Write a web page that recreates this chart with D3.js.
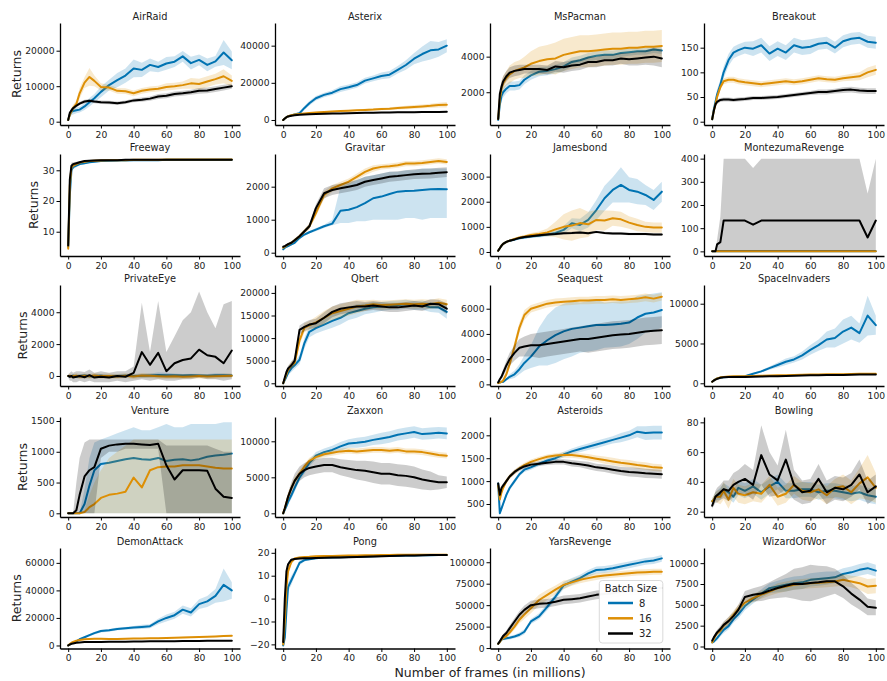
<!DOCTYPE html>
<html><head><meta charset="utf-8">
<script src="https://cdn.jsdelivr.net/npm/d3@7"></script>
<style>
body{margin:0;background:#fff}
svg{font-family:"DejaVu Sans",sans-serif}
</style>
</head><body>
<svg id="chart" width="887" height="681"></svg>
<script>
// ---------------- DATA ----------------
const frames = [0,1,2,3,5,7,10,13,16,20,25,30,35,40,45,50,55,60,65,70,75,80,85,90,95,100];
const batchSizes = [8, 16, 32];
const games = ["AirRaid","Asterix","MsPacman","Breakout","Freeway","Gravitar","Jamesbond","MontezumaRevenge",
  "PrivateEye","Qbert","Seaquest","SpaceInvaders","Venture","Zaxxon","Asteroids","Bowling",
  "DemonAttack","Pong","YarsRevenge","WizardOfWor"];
const xTickValues = [0,20,40,60,80,100];
const yTickValues = [
  [0,10000,20000],[0,20000,40000],[2000,4000],[0,50,100,150],
  [10,20,30],[0,1000,2000],[0,1000,2000,3000],[0,100,200,300,400],
  [0,2000,4000],[0,5000,10000,15000,20000],[0,2000,4000,6000],[0,5000,10000],
  [0,500,1000,1500],[0,5000,10000],[500,1000,1500,2000],[20,40,60,80],
  [0,20000,40000,60000],[-20,-10,0,10,20],[0,25000,50000,75000,100000],[0,2500,5000,7500,10000]];
const yDomains = [
  [-930,27800],[-2700,52200],[160,5890],[-6.7,200],
  [2.1,35.3],[-100,2990],[-160,3900],[-20,420],
  [-630,5710],[-600,21750],[-130,7880],[-340,12350],
  [-60,1565],[-510,13375],[216,2400],[16.4,83.6],
  [-2200,70800],[-21.8,22.1],[-500,116600],[-240,11820]];

// mean returns, one row per batch size (8, 16, 32)
const AirRaid_mean = [
 [500,2000,2800,3000,3200,3400,4300,5500,6600,8400,10300,11700,13000,15000,14600,16000,15400,16400,16900,18400,16500,17400,16000,17000,19500,17300],
 [500,2000,3000,3800,5000,8000,11000,12600,11500,9800,9600,8700,8600,8000,8700,9100,9300,9800,10000,10300,10800,10600,11300,12000,12800,11500],
 [500,2500,3200,3800,4500,5100,5700,5900,5700,5500,5400,5200,5500,6000,6200,6500,7100,7300,7800,8000,8300,8700,8800,9200,9600,10000]];
const AirRaid_sd = [
 [300,800,1000,1000,800,800,1000,1200,1200,1500,1500,2000,2000,2500,2000,1800,1500,1800,1500,1500,1800,1500,1800,1500,3500,2500],
 [300,800,1000,1000,1000,1500,1500,2500,1500,1000,800,800,800,800,800,800,800,1000,1000,1000,1500,1500,1500,1500,2000,1500],
 [200,500,500,500,500,500,500,500,500,500,500,500,500,500,600,600,700,700,700,700,700,800,800,800,800,700]];

const Asterix_mean = [
 [0,800,1500,2000,2500,3000,3600,6500,9000,11700,13500,14700,16600,17600,18800,21200,22400,23700,24400,27000,29600,33000,35500,37500,38000,40000],
 [0,800,1500,2000,2600,2900,3200,3500,3700,4000,4300,4600,4800,5000,5200,5400,5600,5900,6100,6400,6700,7000,7300,7600,8000,8200],
 [0,800,1500,1900,2300,2600,2800,3000,3100,3200,3300,3450,3550,3650,3750,3850,3900,4000,4050,4100,4150,4200,4250,4300,4350,4400]];
const Asterix_sd = [
 [200,300,400,500,500,600,800,1000,1200,1200,1200,1300,1500,1500,1500,1500,1500,1800,2000,2000,2500,3000,4000,5000,4000,3500],
 [200,300,300,300,300,300,300,300,300,400,400,500,500,500,500,600,600,700,700,800,900,1000,1000,1200,1300,1500],
 [150,250,300,300,300,300,300,300,300,300,300,300,350,350,350,350,350,350,350,400,400,400,400,400,400,400]];

const MsPacman_mean = [
 [450,1300,1800,2000,2200,2350,2350,2400,2700,2950,3150,3200,3300,3450,3700,3800,3950,4050,4100,4100,4200,4250,4300,4300,4400,4350],
 [500,1600,2200,2500,2800,3000,3200,3300,3400,3600,3750,3850,3900,4100,4200,4300,4300,4350,4400,4450,4450,4500,4500,4550,4550,4600],
 [500,1900,2300,2600,2900,3100,3200,3250,3300,3300,3300,3250,3450,3400,3500,3550,3700,3700,3800,3800,3900,3850,3900,3950,4000,3900]];
const MsPacman_sd = [
 [100,300,300,300,250,250,250,250,250,250,250,250,250,250,250,250,250,250,250,250,200,200,200,200,200,200],
 [100,300,400,400,400,500,500,500,600,700,800,800,900,900,900,900,900,900,900,900,900,900,900,900,900,900],
 [100,300,300,300,300,300,300,300,250,250,250,250,300,300,300,300,300,300,300,300,300,350,400,400,500,500]];

const Breakout_mean = [
 [5,25,40,55,75,100,125,140,145,150,148,155,138,148,140,155,150,152,158,160,150,163,168,170,162,160],
 [5,22,35,50,70,82,85,85,82,80,78,76,78,80,82,80,82,85,88,86,85,88,90,92,100,105],
 [5,22,35,40,44,45,45,44,45,46,48,48,49,50,52,54,56,58,60,60,62,64,65,63,62,62]];
const Breakout_sd = [
 [2,5,8,10,10,12,12,12,12,12,15,15,15,15,15,15,15,15,12,12,12,12,12,12,12,12],
 [2,5,6,6,6,6,6,6,6,6,6,6,6,6,6,6,6,6,6,6,6,6,7,8,10,10],
 [2,4,4,4,4,4,4,4,4,4,4,4,4,4,4,4,4,4,5,5,5,6,6,6,6,6]];

const Freeway_mean = [
 [5,22,30,31,31.5,32,32.3,32.6,32.8,33,33.1,33.2,33.2,33.3,33.3,33.3,33.3,33.4,33.4,33.4,33.4,33.4,33.4,33.4,33.4,33.4],
 [4.5,25,31,31.5,32,32.5,32.8,33,33.1,33.2,33.3,33.3,33.3,33.4,33.4,33.4,33.4,33.5,33.5,33.5,33.5,33.5,33.5,33.5,33.5,33.5],
 [5.5,27,31.5,32,32.3,32.6,33,33.1,33.2,33.3,33.3,33.3,33.4,33.4,33.4,33.4,33.4,33.4,33.4,33.4,33.4,33.4,33.4,33.4,33.4,33.4]];
const Freeway_sd = [
 [0.5,2,1,0.6,0.5,0.4,0.3,0.3,0.3,0.3,0.2,0.2,0.2,0.2,0.2,0.2,0.2,0.2,0.2,0.2,0.2,0.2,0.2,0.2,0.2,0.2],
 [0.5,2,1,0.6,0.5,0.4,0.3,0.3,0.3,0.3,0.2,0.2,0.2,0.2,0.2,0.2,0.2,0.2,0.2,0.2,0.2,0.2,0.2,0.2,0.2,0.2],
 [0.5,2,1,0.6,0.5,0.4,0.3,0.3,0.3,0.3,0.2,0.2,0.2,0.2,0.2,0.2,0.2,0.2,0.2,0.2,0.2,0.2,0.2,0.2,0.2,0.2]];

const Gravitar_mean = [
 [100,150,180,200,250,300,450,550,620,700,800,880,1270,1300,1380,1500,1650,1700,1780,1850,1870,1880,1900,1920,1930,1920],
 [150,180,220,250,300,380,500,650,800,1200,1750,1950,2050,2150,2300,2450,2550,2600,2620,2650,2700,2700,2720,2750,2780,2750],
 [180,200,230,260,300,380,500,650,800,1350,1800,1900,1950,2000,2050,2150,2200,2250,2300,2320,2350,2380,2390,2400,2420,2440]];
const Gravitar_sd = [
 [20,20,20,20,30,30,40,40,40,50,50,60,500,600,600,600,600,600,600,600,600,600,600,600,600,600],
 [30,30,30,40,40,50,50,60,80,100,120,100,100,100,100,100,100,80,80,80,80,80,80,80,80,80],
 [30,30,30,40,40,50,50,60,80,120,150,150,150,150,150,150,150,150,150,150,150,150,150,150,150,150]];
const Gravitar_lo8 = [80,130,160,180,220,270,410,510,580,650,750,830,900,900,950,950,1000,1000,1000,1000,1050,1050,1000,1050,1050,1050];
const Gravitar_hi8 = [120,170,200,220,280,330,490,590,660,750,850,1000,2000,2100,2200,2300,2350,2400,2450,2450,2500,2500,2550,2550,2550,2550];

const Jamesbond_mean = [
 [50,150,250,320,400,450,500,550,580,620,650,700,760,880,1140,1075,1275,1670,2140,2470,2670,2470,2400,2270,2070,2400],
 [50,150,250,320,400,450,520,580,620,680,720,780,900,1000,1050,1150,1100,1275,1250,1340,1300,1170,1075,1000,970,970],
 [50,150,250,320,400,450,500,560,600,630,670,700,720,750,760,780,750,800,760,740,740,720,720,720,700,700]];
const Jamesbond_sd = [
 [20,30,40,40,50,50,50,50,60,60,70,80,100,150,200,250,300,400,500,500,700,500,500,400,400,400],
 [20,30,40,40,50,50,50,60,60,80,100,150,300,500,600,600,500,400,400,300,300,250,250,200,200,200],
 [20,30,30,30,40,40,40,40,40,40,40,50,50,50,50,50,50,50,50,50,50,50,50,50,50,50]];

const MontezumaRevenge_mean = [
 [0,0,0,0,0,0,0,0,0,0,0,0,0,0,0,0,0,0,0,0,0,0,0,0,0,0],
 [0,0,0,0,0,0,0,0,0,0,0,0,0,0,0,0,0,0,0,0,0,0,0,0,0,0],
 [0,0,0,30,40,133,133,133,133,133,115,133,133,133,133,133,133,133,133,133,133,133,133,133,60,133]];
const MontezumaRevenge_sd = [
 [0,0,0,0,0,0,0,0,0,0,0,0,0,0,0,0,0,0,0,0,0,0,0,0,0,0],
 [0,0,0,0,0,0,0,0,0,0,0,0,0,0,0,0,0,0,0,0,0,0,0,0,0,0],
 [0,0,0,0,0,0,0,0,0,0,0,0,0,0,0,0,0,0,0,0,0,0,0,0,0,0]];
const MontezumaRevenge_lo32 = [0,0,0,0,0,0,0,0,0,0,0,0,0,0,0,0,0,0,0,0,0,0,0,0,0,0];
const MontezumaRevenge_hi32 = [0,0,0,50,150,400,400,400,400,400,360,400,400,400,400,400,400,400,400,400,400,400,400,400,250,400];

const PrivateEye_mean = [
 [0,-20,0,20,-30,0,30,-20,0,20,-30,0,20,0,10,30,60,50,40,30,40,30,20,50,40,30],
 [0,20,-30,0,20,-40,10,-20,30,-10,0,-30,20,-40,30,10,-20,-40,-20,-50,-30,-10,-40,-20,0,10],
 [0,-50,0,-100,-50,0,-80,50,-100,-50,-100,0,-50,200,1500,700,1450,300,800,1000,1100,1650,1300,1200,800,1600]];
const PrivateEye_sd = [
 [50,80,80,80,100,100,100,100,100,100,100,100,100,100,120,120,150,150,120,100,100,100,100,120,120,100],
 [50,80,100,100,150,150,150,150,150,150,150,150,150,150,150,150,150,150,150,150,150,150,150,150,150,150],
 [100,200,300,300,300,300,300,300,300,300,300,300,300,400,1500,800,1500,800,1000,1200,1400,1800,1400,1000,1500,1500]];
const PrivateEye_lo32 = [-100,-300,-300,-400,-400,-300,-400,-300,-400,-400,-400,-300,-400,-300,-200,-300,-200,-300,-300,-200,-200,-100,-200,-200,-300,-200];
const PrivateEye_hi32 = [100,200,300,200,300,300,250,400,200,300,200,300,300,600,4600,1500,4700,1500,2500,3500,4000,5300,4000,3000,4500,4700];

const Qbert_mean = [
 [0,700,1500,2300,3300,4000,5200,8900,11400,12200,13000,13800,14500,15500,16000,16500,16800,17000,17200,17300,17500,17200,17300,16800,16800,15800],
 [0,1000,2000,3000,4000,4500,9500,12300,12800,13500,14500,15500,16000,16500,17000,17200,17500,17300,17400,17500,17600,17500,17600,17500,17800,17500],
 [0,1300,2500,3300,4000,5000,11800,12500,13000,13300,14500,15800,16500,16800,17000,17000,17200,17000,16800,16800,17000,17200,17000,17600,17500,16500]];
const Qbert_sd = [
 [100,300,500,600,800,800,1000,1200,1200,1200,1300,1500,1500,1500,1500,1200,1200,1000,1000,1000,1000,1000,1000,1000,1200,1500],
 [100,300,500,600,800,800,1000,1000,1000,1200,1500,1500,1500,1500,1500,1200,1000,1000,1000,1000,1000,1000,1000,1000,1000,1000],
 [100,300,500,600,800,800,1000,1000,1000,1000,1200,1200,1200,1200,1200,1000,1000,1000,1000,1000,1000,1000,1000,1000,1000,1200]];

const Seaquest_mean = [
 [150,150,180,200,400,600,800,1200,1700,2200,3000,3500,3900,4200,4400,4500,4600,4700,4700,4750,4800,4900,5300,5600,5700,5900],
 [100,150,200,300,800,1600,3000,4500,5500,6000,6200,6400,6500,6550,6600,6650,6650,6700,6700,6750,6700,6750,6800,6900,6800,6950],
 [150,400,600,900,1500,2000,2500,2900,3000,3100,3100,3200,3300,3400,3500,3600,3600,3700,3800,3900,3950,4000,4100,4200,4250,4300]];
const Seaquest_sd = [
 [50,50,50,100,100,200,300,400,600,900,1500,2000,2200,2200,2200,2000,2000,2000,1800,1800,1800,1700,1700,1500,1500,1400],
 [50,50,100,100,200,300,400,400,400,300,300,300,300,300,300,300,300,300,300,300,300,300,300,300,300,300],
 [50,100,200,300,400,500,600,700,800,900,1000,1000,1000,1000,1000,1000,1100,1100,1100,1100,1100,1100,1100,1100,1100,1100]];

const SpaceInvaders_mean = [
 [200,350,500,600,700,750,800,820,850,900,1200,1500,1900,2300,2700,3000,3500,4200,4800,5500,5700,6500,7000,6300,8500,7300],
 [200,350,500,600,750,800,850,870,880,900,920,950,980,1000,1020,1050,1070,1100,1120,1150,1150,1150,1180,1200,1200,1200],
 [200,350,450,550,700,750,800,800,800,800,820,850,870,900,920,950,970,1000,1020,1050,1050,1050,1080,1100,1100,1100]];
const SpaceInvaders_sd = [
 [50,50,50,50,50,50,50,50,50,80,100,150,200,300,400,400,500,600,700,1000,1200,1500,1500,1200,2500,1200],
 [50,50,50,50,50,50,50,50,50,50,50,50,50,50,50,60,60,60,60,60,70,70,70,70,70,70],
 [50,50,50,50,50,50,50,50,50,50,50,50,50,50,50,60,60,60,60,60,60,60,60,60,60,60]];

const Venture_mean = [
 [0,0,0,0,0,0,150,450,700,800,820,850,880,900,880,870,900,850,870,880,860,880,920,940,950,970],
 [0,0,0,0,0,0,20,100,150,250,300,320,350,580,420,700,750,760,760,780,780,780,760,740,730,730],
 [0,0,0,0,50,300,600,700,750,1050,1100,1120,1130,1130,1120,1110,1130,780,550,700,700,700,690,400,270,250]];
const Venture_sd = null;
const Venture_lo8 = [0,0,0,0,0,0,0,0,0,0,0,0,0,0,0,0,0,0,0,0,0,0,0,0,0,0];
const Venture_hi8 = [0,0,0,0,0,0,400,900,1150,1200,1250,1300,1350,1400,1350,1350,1400,1450,1400,1400,1450,1450,1450,1450,1480,1480];
const Venture_lo16 = [0,0,0,0,0,0,0,0,0,0,0,0,0,0,0,0,0,0,0,0,0,0,0,0,0,0];
const Venture_hi16 = [0,0,0,0,0,0,50,300,500,700,900,1000,1100,1200,1200,1200,1200,1200,1200,1200,1200,1200,1200,1200,1200,1200];
const Venture_lo32 = [0,0,0,0,0,0,0,0,0,900,1000,1000,1050,1050,1050,1050,1050,0,0,0,0,0,0,0,0,0];
const Venture_hi32 = [0,0,0,0,500,900,1150,1200,1200,1200,1200,1200,1200,1200,1200,1200,1200,1100,1100,1100,1100,1100,1100,1050,1000,1000];

const Zaxxon_mean = [
 [0,500,1000,1600,2500,3500,5000,6000,7000,8000,8500,8800,9300,9700,9800,9950,10200,10400,10600,10900,11100,11300,11000,11100,11200,11100],
 [0,700,1500,2300,3500,4500,5500,6500,7300,7800,8200,8400,8600,8700,8600,8700,8800,8800,8700,8800,8600,8600,8500,8300,8100,8000],
 [0,700,1500,2300,3500,4500,5500,6000,6300,6500,6700,6700,6400,6200,6000,5900,5700,5500,5500,5300,5200,5000,4700,4500,4300,4300]];
const Zaxxon_sd = [
 [100,200,300,400,500,500,500,500,500,500,500,600,600,600,700,700,700,800,800,800,800,800,800,800,800,800],
 [100,200,400,500,500,500,500,400,400,400,400,400,400,400,400,400,400,400,400,400,400,400,400,400,400,400],
 [100,300,500,600,800,1000,1000,1000,1000,1000,1000,1000,1100,1200,1300,1400,1500,1500,1500,1500,1500,1500,1400,1300,1000,800]];

const Asteroids_mean = [
 [950,300,400,500,700,850,1000,1150,1250,1300,1380,1450,1500,1580,1650,1700,1750,1800,1850,1900,1950,2000,2080,2050,2060,2060],
 [900,600,750,850,1000,1100,1200,1280,1350,1420,1480,1530,1560,1570,1570,1550,1520,1490,1460,1430,1400,1380,1350,1330,1300,1290],
 [950,700,850,900,1000,1100,1200,1270,1320,1360,1380,1400,1420,1420,1390,1370,1340,1300,1280,1250,1220,1200,1190,1170,1160,1150]];
const Asteroids_sd = [
 [50,50,50,50,50,50,50,50,50,50,50,50,60,60,60,70,70,80,80,80,100,100,120,150,150,150],
 [50,50,50,50,50,50,50,50,50,50,50,50,50,60,60,60,70,70,80,80,80,80,80,80,80,80],
 [50,50,50,50,50,50,50,50,50,50,50,50,60,60,70,70,80,80,80,90,90,100,100,100,100,100]];

const Bowling_mean = [
 [27,28,30,31,32,35,33,30,36,34,37,33,37,40,34,34,35,35,33,34,34,33,32,33,31,30],
 [27,28,30,30,30,34,28,36,32,31,33,32,38,30,32,38,34,33,35,31,36,37,33,39,43,36],
 [24,27,30,31,33,35,34,38,40,42,38,58,45,41,55,38,33,34,42,33,36,35,38,45,33,37]];
const Bowling_sd = [
 [2,3,3,3,4,4,4,4,5,5,5,5,5,5,5,5,5,5,5,5,5,5,5,5,5,5],
 [2,3,3,4,5,6,6,6,6,6,6,6,6,6,6,6,6,6,6,6,6,8,8,10,15,10],
 [2,3,4,5,5,6,7,8,8,10,10,20,15,10,20,10,8,8,10,8,8,8,8,10,8,8]];

const DemonAttack_mean = [
 [0,800,1500,2000,3000,4500,6000,7500,9000,10500,11000,12000,12500,13000,13500,14000,17500,20000,22000,26000,24000,30000,32000,36000,44000,40000],
 [0,1000,2000,2500,3500,4000,4500,4700,4800,4800,4700,4700,4800,5000,5100,5200,5300,5500,5600,5800,6000,6200,6400,6600,6800,7000],
 [0,700,1200,1500,2000,2200,2500,2550,2600,2600,2650,2700,2750,2800,2900,3000,3050,3100,3150,3200,3250,3300,3350,3400,3450,3500]];
const DemonAttack_sd = [
 [200,300,400,500,600,700,800,900,1000,1000,1000,1000,1000,1200,1500,1500,2000,2500,2500,3000,3000,3500,4000,5000,12000,6000],
 [100,200,300,300,400,400,400,400,400,400,400,400,400,400,400,400,400,400,400,500,500,500,500,500,600,600],
 [100,200,200,200,200,200,200,200,200,200,200,200,200,200,250,250,250,250,250,250,300,300,300,300,300,300]];

const Pong_mean = [
 [-20.5,-17,-5,5,8,11,15.6,16.8,17.2,17.6,17.9,18,18.1,18.2,18.3,18.4,18.5,18.6,18.6,18.7,18.8,18.8,18.9,18.9,19,19],
 [-20,-10,5,12,16,17.5,18,18.2,18.3,18.5,18.6,18.6,18.7,18.8,18.8,18.9,18.9,19,19,19.1,19.1,19.2,19.2,19.2,19.2,19.2],
 [-19,0,12,15,17,17.3,17.5,17.6,17.6,17.7,17.8,17.9,18,18.1,18.2,18.3,18.4,18.5,18.6,18.7,18.8,18.8,18.9,19,19,19]];
const Pong_sd = [
 [0.3,2,3,2,2,1.5,1,0.6,0.5,0.4,0.4,0.4,0.4,0.4,0.4,0.4,0.4,0.4,0.4,0.4,0.4,0.4,0.4,0.4,0.4,0.4],
 [0.3,2,3,2,1,0.6,0.5,0.4,0.4,0.4,0.4,0.4,0.4,0.4,0.4,0.4,0.4,0.4,0.4,0.4,0.4,0.4,0.4,0.4,0.4,0.4],
 [0.3,3,2,1,0.5,0.4,0.4,0.4,0.4,0.4,0.4,0.4,0.4,0.4,0.4,0.4,0.4,0.4,0.4,0.4,0.4,0.4,0.4,0.4,0.4,0.4]];

const YarsRevenge_mean = [
 [5000,7000,10000,10500,11500,12000,13500,15500,19000,31000,37000,48000,60000,73000,77500,81500,87000,91000,91500,93000,95000,97000,99000,101000,102000,104500],
 [5000,7000,10000,11500,14000,18000,25000,33000,39000,46500,56000,62000,68000,73600,76500,79500,81500,83300,84500,85300,86300,87200,88000,88400,88800,89000],
 [5000,8000,11000,14000,17500,23000,31000,38800,44500,50000,51500,52300,54000,56200,57000,58000,60000,62000,63000,64000,65500,66500,67500,68500,69500,70000]];
const YarsRevenge_sd = [
 [500,1000,1500,1500,2000,2000,2000,2500,3000,3000,3500,4000,4000,4000,4000,4000,4000,4000,4000,4000,4000,4000,4000,4000,4000,4000],
 [500,1000,1500,2000,2500,3000,3500,4000,5000,6000,6000,6000,5000,5000,4000,4000,4000,4000,3500,3500,3500,3500,3500,3500,3500,3500],
 [500,1500,2000,2500,3000,3500,4000,4500,5000,5000,5000,5000,5000,5000,5000,5000,5000,5000,5000,5000,5000,5000,5000,5000,5000,5000]];

const WizardOfWor_mean = [
 [500,600,800,1000,1500,2000,2450,3250,3850,4850,5650,6350,7000,7200,7400,7600,7700,8000,8100,8200,8300,8700,8900,9200,9400,9100],
 [500,900,1300,1600,1900,2500,3050,3800,4500,5250,5800,6230,6600,7000,7200,7400,7500,7600,7650,7700,7800,8000,7800,7600,7200,7300],
 [700,1100,1400,1700,2100,2600,3050,3650,4400,5950,6200,6350,6700,7020,7300,7540,7500,7620,7700,7820,7820,7220,6350,5630,4760,4640]];
const WizardOfWor_sd = [
 [100,200,200,300,300,400,400,400,500,500,500,500,600,700,800,800,800,800,800,800,700,700,700,700,700,700],
 [100,200,300,300,400,400,500,500,500,500,500,500,500,600,600,600,600,600,600,600,600,700,700,800,900,900],
 [100,200,300,300,400,400,500,500,600,700,800,900,1000,1200,1400,1800,2000,2200,2000,1800,1500,1400,1300,1200,1000,900]];

// ---------------- assemble ----------------
const meanSets = {AirRaid:AirRaid_mean, Asterix:Asterix_mean, MsPacman:MsPacman_mean, Breakout:Breakout_mean,
  Freeway:Freeway_mean, Gravitar:Gravitar_mean, Jamesbond:Jamesbond_mean, MontezumaRevenge:MontezumaRevenge_mean,
  PrivateEye:PrivateEye_mean, Qbert:Qbert_mean, Seaquest:Seaquest_mean, SpaceInvaders:SpaceInvaders_mean,
  Venture:Venture_mean, Zaxxon:Zaxxon_mean, Asteroids:Asteroids_mean, Bowling:Bowling_mean,
  DemonAttack:DemonAttack_mean, Pong:Pong_mean, YarsRevenge:YarsRevenge_mean, WizardOfWor:WizardOfWor_mean};
const sdSets = {AirRaid:AirRaid_sd, Asterix:Asterix_sd, MsPacman:MsPacman_sd, Breakout:Breakout_sd,
  Freeway:Freeway_sd, Gravitar:Gravitar_sd, Jamesbond:Jamesbond_sd, MontezumaRevenge:MontezumaRevenge_sd,
  PrivateEye:PrivateEye_sd, Qbert:Qbert_sd, Seaquest:Seaquest_sd, SpaceInvaders:SpaceInvaders_sd,
  Venture:Venture_sd, Zaxxon:Zaxxon_sd, Asteroids:Asteroids_sd, Bowling:Bowling_sd,
  DemonAttack:DemonAttack_sd, Pong:Pong_sd, YarsRevenge:YarsRevenge_sd, WizardOfWor:WizardOfWor_sd};
const bandOverrides = {
  "Gravitar_8":[Gravitar_lo8, Gravitar_hi8],
  "MontezumaRevenge_32":[MontezumaRevenge_lo32, MontezumaRevenge_hi32],
  "PrivateEye_32":[PrivateEye_lo32, PrivateEye_hi32],
  "Venture_8":[Venture_lo8, Venture_hi8],
  "Venture_16":[Venture_lo16, Venture_hi16],
  "Venture_32":[Venture_lo32, Venture_hi32]};

// sanity check of lengths
games.forEach(g => {
  meanSets[g].forEach((a, s) => { if (a.length !== frames.length) throw new Error(g + " mean " + s + " len " + a.length); });
  if (sdSets[g]) sdSets[g].forEach((a, s) => { if (a.length !== frames.length) throw new Error(g + " sd " + s + " len " + a.length); });
});
Object.entries(bandOverrides).forEach(([k, v]) => v.forEach((a, j) => { if (a.length !== frames.length) throw new Error(k + " band " + j + " len " + a.length); }));

// ---------------- DRAW ----------------
const svg = d3.select("#chart");
const colX = [60, 275, 490, 704];
const rowTop = [23, 154, 285, 417, 548];
const rowBottom = [125, 256, 386, 517, 648.5];
const W = 180;
const colors = ["#0173b2", "#de8f05", "#000000"];
const fmt = d => d < 0 ? "\u2212" + Math.abs(d) : String(d);

function styleAxis(g) {
  g.attr("font-size", null).attr("font-family", null);
  g.select(".domain").attr("stroke", "#000").attr("stroke-width", 1.3);
  g.selectAll(".tick line").attr("stroke", "#000").attr("stroke-width", 1);
  g.selectAll(".tick text").attr("font-size", "9.2px").attr("fill", "#222");
}

games.forEach((game, i) => {
  const c = i % 4, r = Math.floor(i / 4);
  const H = rowBottom[r] - rowTop[r];
  const panel = svg.append("g").attr("transform", `translate(${colX[c]},${rowTop[r]})`);
  const x = d3.scaleLinear().domain([-5, 105]).range([0, W]);
  const y = d3.scaleLinear().domain(yDomains[i]).range([H, 0]);
  const clipId = "clip" + i;
  panel.append("clipPath").attr("id", clipId).append("rect").attr("width", W).attr("height", H);
  const plot = panel.append("g").attr("clip-path", `url(#${clipId})`);
  const means = meanSets[game], sds = sdSets[game];

  batchSizes.forEach((b, s) => {
    const m = means[s];
    let lo, hi;
    const ov = bandOverrides[game + "_" + b];
    if (ov) { lo = ov[0]; hi = ov[1]; }
    else { lo = m.map((v, k) => v - sds[s][k]); hi = m.map((v, k) => v + sds[s][k]); }
    const line = d3.line().x((d, k) => x(frames[k])).y(d => y(d));
    plot.append("path").datum(m).attr("d", line)
      .attr("fill", "none").attr("stroke", colors[s]).attr("stroke-width", 2)
      .attr("stroke-linejoin", "round").attr("stroke-linecap", "round");
    const area = d3.area().x((d, k) => x(frames[k])).y0((d, k) => y(lo[k])).y1((d, k) => y(hi[k]));
    plot.append("path").datum(m).attr("d", area).attr("fill", colors[s]).attr("fill-opacity", 0.2);
  });

  panel.append("g").attr("transform", `translate(0,${H})`)
    .call(d3.axisBottom(x).tickValues(xTickValues).tickSize(3.5).tickSizeOuter(0).tickPadding(2.5).tickFormat(fmt))
    .call(styleAxis);
  const yG = panel.append("g")
    .call(d3.axisLeft(y).tickValues(yTickValues[i]).tickSize(3.5).tickSizeOuter(0).tickPadding(2).tickFormat(fmt))
    .call(styleAxis);

  panel.append("text").attr("x", W / 2).attr("y", -3.5).attr("text-anchor", "middle")
    .attr("font-size", "9.8px").attr("fill", "#222").text(game);

  if (c === 0) {
    const bb = yG.node().getBBox();
    const lx = bb.x - 4.5;
    panel.append("text").attr("transform", `translate(${lx},${H / 2}) rotate(-90)`)
      .attr("text-anchor", "middle").attr("font-size", "12.5px").attr("fill", "#222").text("Returns");
  }
});

svg.append("text").attr("x", 490).attr("y", 677).attr("text-anchor", "middle")
  .attr("font-size", "12.5px").attr("fill", "#222").text("Number of frames (in millions)");

// legend
const leg = svg.append("g");
leg.append("rect").attr("x", 599.3).attr("y", 580.5).attr("width", 63.5).attr("height", 62.5).attr("rx", 3)
  .attr("fill", "#fff").attr("fill-opacity", 0.97).attr("stroke", "#d0d0d0").attr("stroke-width", 0.8);
leg.append("text").attr("x", 631).attr("y", 591.5).attr("text-anchor", "middle")
  .attr("font-size", "10px").attr("fill", "#222").text("Batch Size");
const legY = [603, 618.3, 633.5];
batchSizes.forEach((b, s) => {
  leg.append("line").attr("x1", 608).attr("x2", 633).attr("y1", legY[s]).attr("y2", legY[s])
    .attr("stroke", colors[s]).attr("stroke-width", 2.5);
  leg.append("text").attr("x", 639).attr("y", legY[s] + 3.6).attr("font-size", "10px").attr("fill", "#222").text(b);
});
</script>
</body></html>
